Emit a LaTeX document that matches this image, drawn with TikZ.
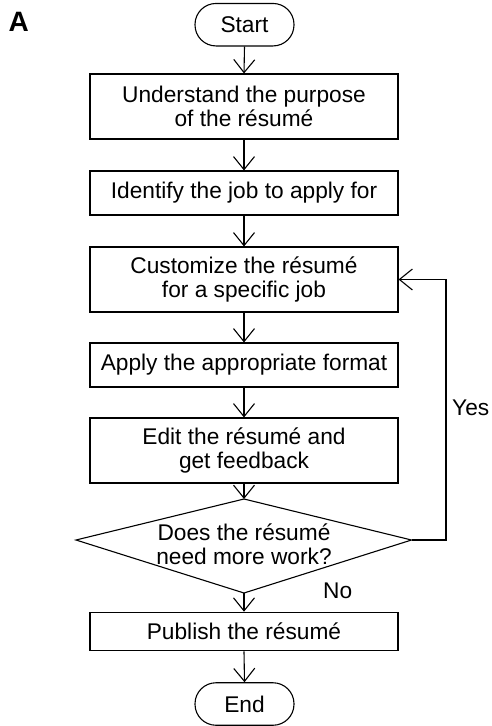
\documentclass[tikz,border=0pt]{standalone}
\usepackage{fontspec}
\setmainfont{Liberation Sans}
\usetikzlibrary{arrows.meta}
\begin{document}
\begin{tikzpicture}[x=1pt,y=-1pt,
  every node/.style={font=\fontsize{22.7}{24.5}\selectfont, inner sep=0pt},
  proc/.style={draw, line width=1.1pt, minimum width=308pt, align=center},
  term/.style={draw, line width=1.1pt, minimum width=99pt, minimum height=42.5pt, rounded corners=21pt},
  shapeline/.style={line width=1.1pt},
  flow/.style={line width=1.1pt, -{Straight Barb[length=13pt,width=21pt,line width=1.1pt]}},
  lbl/.style={anchor=base west}]
\useasboundingbox (0,0) rectangle (492,726);
\node[anchor=base west, font=\fontsize{28}{30}\selectfont\bfseries] (A) at (8.5,31) {A};
\node[term] (start) at (244.5,24.7) {Start};
\node[proc, minimum height=65pt] (b1) at (244,106.5) {Understand the purpose\\of the résumé};
\node[proc, minimum height=44pt] (b2) at (244,193) {Identify the job to apply for};
\node[proc, minimum height=65pt] (b3) at (244,279.5) {Customize the résumé\\for a specific job};
\node[proc, minimum height=44pt] (b4) at (244,365) {Apply the appropriate format};
\node[proc, minimum height=65pt] (b5) at (244,450.5) {Edit the résumé and\\get feedback};
\coordinate (dT) at (244,499);
\coordinate (dL) at (76,540);
\coordinate (dR) at (411.5,540);
\coordinate (dB) at (244,593);
\draw[shapeline] (dT) -- (dR) -- (dB) -- (dL) -- cycle;
\node[align=center] (dq) at (244,544) {Does the résumé\\need more work?};
\node[proc, minimum height=38.5pt] (b6) at (244,631.5) {Publish the résumé};
\node[term] (end) at (244.5,704) {End};
\coordinate (lp) at (446,540);
\draw[flow] (start.south) -- (b1.north);
\draw[flow] (b1.south) -- (b2.north);
\draw[flow] (b2.south) -- (b3.north);
\draw[flow] (b3.south) -- (b4.north);
\draw[flow] (b4.south) -- (b5.north);
\draw[flow] (b5.south) -- (dT);
\draw[flow] (dB) -- (b6.north);
\draw[flow] (b6.south) -- (end.north);
\draw[flow] (dR) -- (lp) |- (b3.east);
\node[lbl] (yes) at (452,415) {Yes};
\node[lbl] (no) at (323,598) {No};
\end{tikzpicture}
\end{document}
